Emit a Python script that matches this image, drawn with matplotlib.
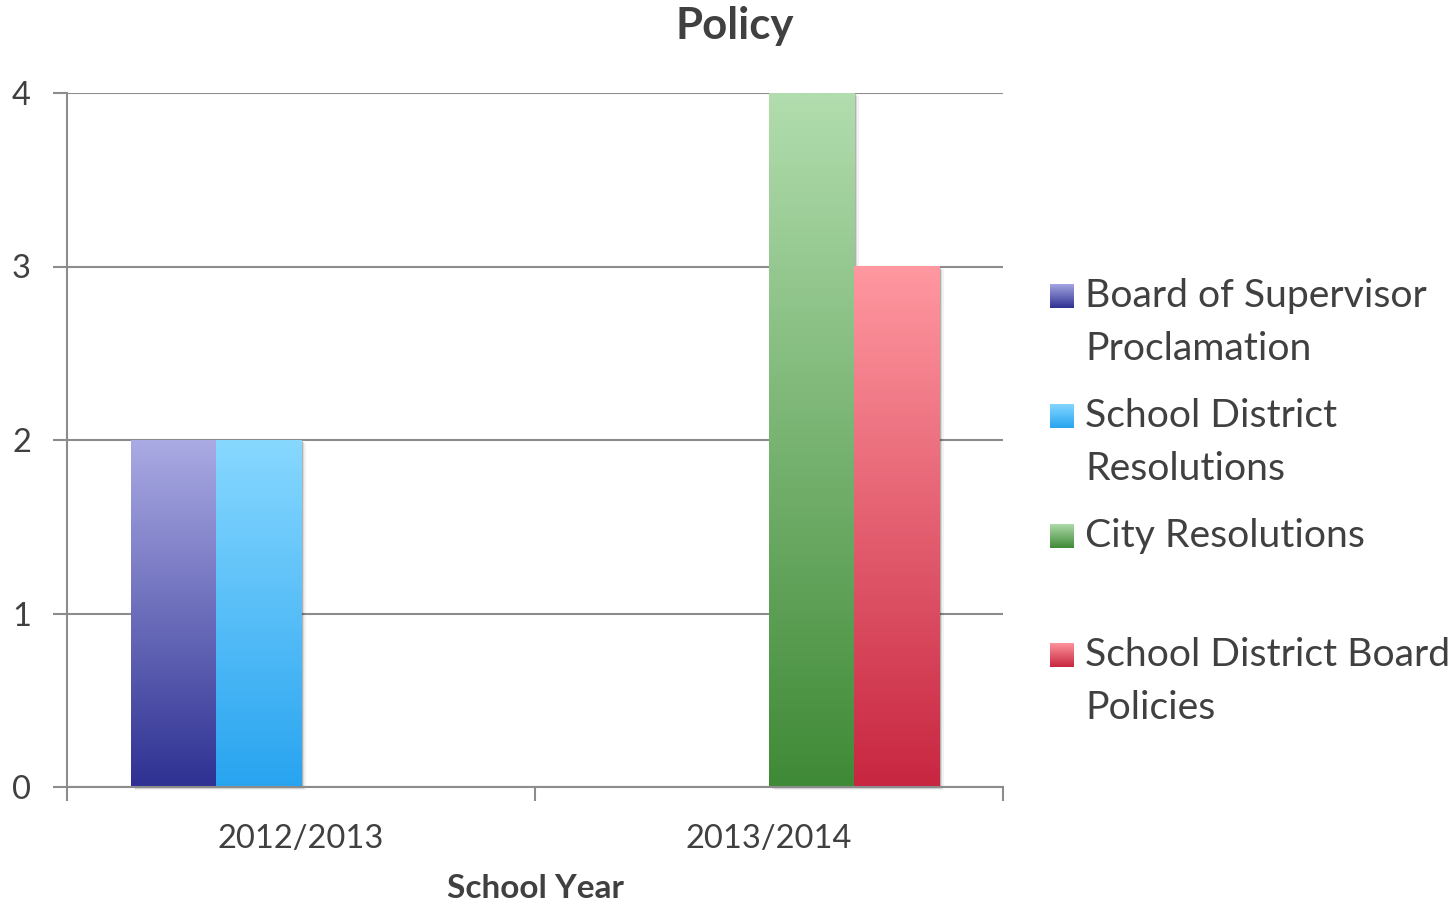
import numpy as np
import matplotlib
matplotlib.use("Agg")
import matplotlib.pyplot as plt
from matplotlib.patches import Rectangle
import matplotlib.transforms as mtransforms
from matplotlib.colors import to_rgb

plt.rcParams['font.family'] = ['Lato', 'DejaVu Sans']

# ---- data ----
years = ["2012/2013", "2013/2014"]
series_names = ["Board of Supervisor Proclamation", "School District Resolutions",
                "City Resolutions", "School District Board Policies"]
legend_lines = [["Board of Supervisor", "Proclamation"],
                ["School District", "Resolutions"],
                ["City Resolutions"],
                ["School District Board", "Policies"]]
board_sup = [2, 0]
school_res = [2, 0]
city_res = [0, 4]
school_board = [0, 3]
values = [board_sup, school_res, city_res, school_board]

# gradient colours (top, bottom)
grad_top = ["#AAAAE4", "#87D8FF", "#B2DDAE", "#FF98A0"]
grad_bot = ["#2E3192", "#28A4F0", "#3F8A36", "#C82641"]

W, H = 1455, 906
fig = plt.figure(figsize=(W / 100, H / 100), dpi=100)
left, right, top, bottom = 67, 1003, 93, 787
ax = fig.add_axes([left / W, 1 - bottom / H, (right - left) / W, (bottom - top) / H])

txt = "#404040"
grid_c = "#8C8C8C"

x = np.arange(len(years)) + 0.5
bw = 0.182
n = len(values)

def grad_img(c_top, c_bot):
    t = np.linspace(0, 1, 256)[:, None]
    a = np.array(to_rgb(c_bot)); b = np.array(to_rgb(c_top))
    return (a[None, None, :] * (1 - t[:, :, None]) + b[None, None, :] * t[:, :, None])

for i, vals in enumerate(values):
    pos = x + (i - (n - 1) / 2) * bw
    bars = ax.bar(pos, vals, width=bw, color='none', edgecolor='none', zorder=3)
    for b in bars:
        h = b.get_height()
        if h <= 0:
            continue
        x0, w = b.get_x(), b.get_width()
        for k, (dx, al) in enumerate([(1.5, 0.18), (3.0, 0.10), (4.5, 0.05)]):
            tr = mtransforms.offset_copy(ax.transData, fig=fig, x=dx, y=-dx * 0.7, units='dots')
            ax.add_patch(Rectangle((x0, 0), w, h, facecolor='black', alpha=al,
                                   edgecolor='none', transform=tr, zorder=2, clip_on=False))
        ax.imshow(grad_img(grad_top[i], grad_bot[i]), extent=[x0, x0 + w, 0, h],
                  origin='lower', aspect='auto', zorder=4, interpolation='bilinear')

ax.set_xlim(0, 2)
ax.set_ylim(0, 4)
ax.set_yticks([0, 1, 2, 3, 4])
ax.set_xticks([0, 1, 2])
ax.set_xticklabels([])
ax.set_xticks(x, minor=True)
ax.set_xticklabels(years, minor=True)
ax.tick_params(axis='x', which='minor', length=0, pad=27, labelsize=23.5, labelcolor=txt)
ax.tick_params(axis='x', which='major', length=10, width=1.5, color=grid_c)
ax.tick_params(axis='y', length=10, width=1.5, color=grid_c, labelsize=23.5,
               labelcolor=txt, pad=16)
ax.grid(axis='y', color=grid_c, lw=1.5, zorder=1)
ax.set_axisbelow(True)
for s in ['top', 'right']:
    ax.spines[s].set_visible(False)
for s in ['left', 'bottom']:
    ax.spines[s].set_color(grid_c)
    ax.spines[s].set_linewidth(1.5)
    ax.spines[s].set_zorder(5)

fig.text(735 / W, 1 - 26 / H, "Policy", ha='center', va='center', fontsize=31.5,
         fontweight='bold', color=txt)
fig.text(535 / W, 1 - 889 / H, "School Year", ha='center', va='center', fontsize=24,
         fontweight='bold', color=txt)

# legend (manual, gradient markers)
baselines = [307, 427, 547, 666]
line_step = 53
for i, lines in enumerate(legend_lines):
    bl = baselines[i]
    mx0, mx1 = 1050, 1074
    my_top, my_bot = bl - 23, bl + 1
    lax = fig.add_axes([mx0 / W, 1 - my_bot / H, (mx1 - mx0) / W, (my_bot - my_top) / H])
    lax.imshow(grad_img(grad_top[i], grad_bot[i]), origin='lower', aspect='auto',
               extent=[0, 1, 0, 1], interpolation='bilinear')
    lax.axis('off')
    for j, ln in enumerate(lines):
        fig.text(1085 / W, 1 - (bl + j * line_step) / H, ln, ha='left', va='baseline',
                 fontsize=28.2, color=txt)

fig.savefig("out.png", dpi=100)
